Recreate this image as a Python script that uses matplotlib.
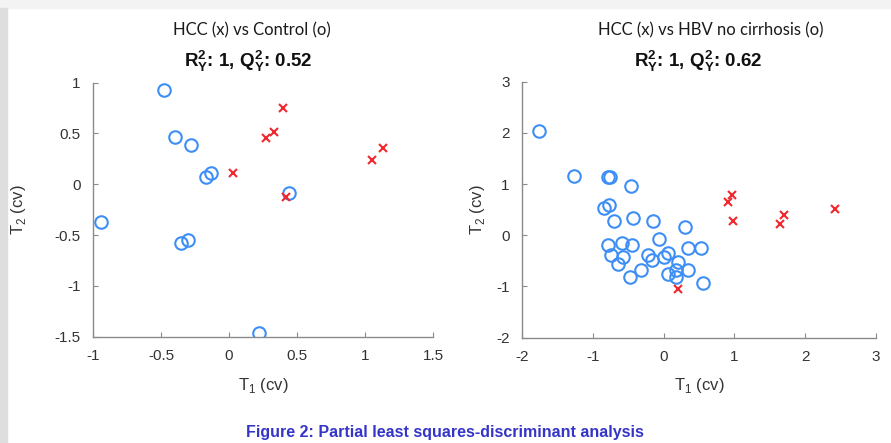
import matplotlib.pyplot as plt
from matplotlib.patches import Rectangle

# Left panel: HCC vs Control
ctrl_x = [-0.48, -0.40, -0.28, -0.17, -0.135, -0.94, -0.35, -0.30, 0.22, 0.44]
ctrl_y = [0.93, 0.47, 0.39, 0.07, 0.11, -0.37, -0.58, -0.55, -1.46, -0.09]
hcc1_x = [0.40, 0.27, 0.33, 0.03, 0.42, 1.05, 1.13]
hcc1_y = [0.75, 0.46, 0.51, 0.11, -0.13, 0.24, 0.36]

# Right panel: HCC vs HBV no cirrhosis
hbv_x = [-1.76, -1.27, -0.79, -0.76, -0.46, -0.84, -0.78, -0.70, -0.44, -0.15,
         0.30, -0.06, -0.79, -0.59, -0.45, -0.74, -0.58, -0.64, -0.48, -0.32,
         -0.22, -0.16, 0.00, 0.06, 0.06, 0.17, 0.18, 0.20, 0.35, 0.35, 0.53, 0.55]
hbv_y = [2.03, 1.16, 1.14, 1.14, 0.97, 0.53, 0.59, 0.27, 0.34, 0.28,
         0.17, -0.08, -0.19, -0.16, -0.19, -0.38, -0.43, -0.57, -0.81, -0.67,
         -0.38, -0.48, -0.42, -0.35, -0.76, -0.82, -0.67, -0.53, -0.24, -0.67, -0.25, -0.94]
hcc2_x = [0.91, 0.97, 0.98, 1.64, 1.70, 2.43, 0.21]
hcc2_y = [0.65, 0.79, 0.28, 0.22, 0.39, 0.51, -1.04]

titles = ['HCC (x) vs Control (o)', 'HCC (x) vs HBV no cirrhosis (o)']
stats = [r'$\mathbf{R^2_Y}$: 1, $\mathbf{Q^2_Y}$: 0.52',
         r'$\mathbf{R^2_Y}$: 1, $\mathbf{Q^2_Y}$: 0.62']

plt.rcParams['font.family'] = ['Liberation Sans', 'DejaVu Sans']
plt.rcParams['mathtext.fontset'] = 'custom'
plt.rcParams['mathtext.bf'] = 'Liberation Sans:bold'
plt.rcParams['mathtext.rm'] = 'Liberation Sans'

fig = plt.figure(figsize=(8.91, 4.43), dpi=100)

# grey border strips of the screenshot
fig.patches.append(Rectangle((0, 0.982), 1, 0.018, transform=fig.transFigure, color='#f3f3f3', zorder=0))
fig.patches.append(Rectangle((0, 0), 0.008, 0.982, transform=fig.transFigure, color='#dedede', zorder=0))

ax1 = fig.add_axes([0.1044, 0.240, 0.3816, 0.5734])
ax2 = fig.add_axes([0.5862, 0.2377, 0.3966, 0.578])

blue = '#3d8ef5'
red = '#f0282d'

ax1.plot(ctrl_x, ctrl_y, 'o', mfc='none', mec=blue, ms=9, mew=1.5)
ax1.plot(hcc1_x, hcc1_y, 'x', color=red, ms=6, mew=1.5)
ax1.set_xlim(-1, 1.5)
ax1.set_ylim(-1.5, 1)
ax1.set_xticks([-1, -0.5, 0, 0.5, 1, 1.5])
ax1.set_xticklabels(['-1', '-0.5', '0', '0.5', '1', '1.5'])
ax1.set_yticks([-1.5, -1, -0.5, 0, 0.5, 1])
ax1.set_yticklabels(['-1.5', '-1', '-0.5', '0', '0.5', '1'])

ax2.plot(hbv_x, hbv_y, 'o', mfc='none', mec=blue, ms=9, mew=1.5)
ax2.plot(hcc2_x, hcc2_y, 'x', color=red, ms=6, mew=1.5)
ax2.set_xlim(-2, 3)
ax2.set_ylim(-2, 3)
ax2.set_xticks([-2, -1, 0, 1, 2, 3])
ax2.set_xticklabels(['-2', '-1', '0', '1', '2', '3'])
ax2.set_yticks([-2, -1, 0, 1, 2, 3])
ax2.set_yticklabels(['-2', '-1', '0', '1', '2', '3'])

for ax in (ax1, ax2):
    ax.spines['top'].set_visible(False)
    ax.spines['right'].set_visible(False)
    for s in ('left', 'bottom'):
        ax.spines[s].set_color('#8a8a8a')
        ax.spines[s].set_linewidth(1.0)
    ax.tick_params(direction='in', length=3.5, color='#8a8a8a', labelsize=11,
                   labelcolor='#333333')
    ax.tick_params(axis='x', pad=9)
    ax.tick_params(axis='y', pad=9)
    ax.set_xlabel(r'T$_1$ (cv)', fontsize=12, color='#333333')
    ax.set_ylabel(r'T$_2$ (cv)', fontsize=12, color='#333333')

ax1.xaxis.set_label_coords(0.5, -0.155)
ax2.xaxis.set_label_coords(0.5, -0.15)
ax1.yaxis.set_label_coords(-0.19, 0.5)
ax2.yaxis.set_label_coords(-0.099, 0.5)

# titles
fig.text(252 / 891, 1 - 35 / 443, titles[0], ha='center', va='baseline',
         fontsize=12, family=['Lato', 'DejaVu Sans'], color='#1a1a1a')
fig.text(248 / 891, 1 - 67 / 443, stats[0], ha='center', va='baseline',
         fontsize=13.5, fontweight='bold', color='#111111')
fig.text(711 / 891, 1 - 35 / 443, titles[1], ha='center', va='baseline',
         fontsize=12, family=['Lato', 'DejaVu Sans'], color='#1a1a1a')
fig.text(698 / 891, 1 - 67 / 443, stats[1], ha='center', va='baseline',
         fontsize=13.5, fontweight='bold', color='#111111')

fig.text(445 / 891, 1 - 432 / 443, 'Figure 2: Partial least squares-discriminant analysis',
         ha='center', va='center', fontsize=11.5, fontweight='bold', color='#3535c8')

fig.savefig('out.png', dpi=100)
